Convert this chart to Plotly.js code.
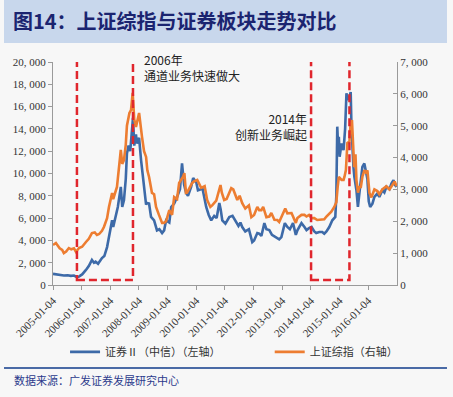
<!DOCTYPE html>
<html>
<head>
<meta charset="utf-8">
<script src="https://cdn.plot.ly/plotly-3.0.1.min.js"></script>
<style>html,body{margin:0;padding:0;background:#f7f7f7;}#chart{width:453px;height:397px;}</style>
</head>
<body>
<div id="chart"></div>
<script>
// 证券II（中信）（左轴）
const blueDates = ["2005-01-04","2005-02-20","2005-04-10","2005-05-22","2005-07-10","2005-08-20","2005-09-28","2005-11-05","2005-12-01","2006-01-10","2006-02-28","2006-04-05","2006-05-15","2006-06-10","2006-06-30","2006-08-01","2006-09-20","2006-10-20","2006-11-24","2006-12-20","2007-01-27","2007-02-10","2007-03-15","2007-04-10","2007-05-18","2007-06-05","2007-06-27","2007-07-20","2007-08-04","2007-08-25","2007-09-15","2007-10-06","2007-10-20","2007-11-05","2007-11-27","2007-12-09","2008-01-06","2008-01-31","2008-02-20","2008-03-09","2008-04-04","2008-04-16","2008-05-12","2008-06-06","2008-07-15","2008-08-21","2008-09-20","2008-10-25","2008-11-20","2008-12-15","2009-01-25","2009-02-18","2009-03-28","2009-05-04","2009-06-10","2009-07-06","2009-08-01","2009-08-27","2009-09-20","2009-10-30","2009-11-25","2010-01-04","2010-01-25","2010-03-07","2010-03-20","2010-05-10","2010-06-10","2010-07-13","2010-08-20","2010-09-20","2010-10-24","2010-11-10","2010-12-01","2011-01-10","2011-02-28","2011-04-10","2011-05-28","2011-06-25","2011-07-20","2011-08-12","2011-09-20","2011-11-05","2011-12-18","2012-01-10","2012-02-20","2012-03-15","2012-04-12","2012-05-20","2012-06-15","2012-07-22","2012-08-25","2012-10-20","2012-11-25","2012-12-23","2013-01-10","2013-02-05","2013-03-09","2013-04-10","2013-05-20","2013-06-25","2013-07-15","2013-09-05","2013-10-13","2013-11-08","2013-12-10","2014-01-11","2014-02-15","2014-03-12","2014-04-20","2014-05-28","2014-06-22","2014-07-20","2014-08-25","2014-10-03","2014-11-10","2014-11-23","2014-12-05","2014-12-15","2014-12-25","2015-01-04","2015-01-29","2015-02-23","2015-03-15","2015-04-01","2015-04-13","2015-05-09","2015-05-25","2015-06-04","2015-06-29","2015-07-11","2015-08-06","2015-08-25","2015-09-13","2015-09-25","2015-10-21","2015-11-15","2015-11-29","2015-12-24","2016-01-10","2016-01-28","2016-02-26","2016-03-22","2016-04-29","2016-05-24","2016-07-01","2016-07-27","2016-08-22","2016-09-30","2016-10-25","2016-11-20","2016-12-05","2016-12-30"];
const blueValues = [1000,950,900,850,880,820,850,700,750,950,1350,1700,2240,2000,2100,1900,2420,2600,3400,4500,5800,5200,6100,7000,8800,7000,7600,9500,11800,12500,12000,14200,15000,12500,13500,12700,13200,11200,10000,8800,7200,7350,7300,6100,5800,4900,5000,4660,4900,5800,5600,7000,7300,7900,8600,10900,9000,8250,8000,8800,9600,9200,8500,8600,8800,7000,6300,5800,6200,6000,7350,6800,5800,5500,6100,6200,5550,5300,5600,5200,4800,5000,3850,4000,4660,4600,4400,5550,5000,4930,4500,4300,4100,4300,4930,5550,5200,5000,5550,4500,4900,5550,5200,4930,5100,5200,4800,4660,4750,4750,4600,4800,5200,5800,6100,8000,14200,12500,13300,11500,12700,12100,14000,17200,16600,16900,17300,14200,10600,9700,8500,7000,8250,9000,10600,10900,10300,9500,7500,7000,7300,7900,8200,7900,8500,8300,8800,8600,9100,9400,9000,8800];

// 上证综指（右轴）
const orangeDates = ["2005-01-04","2005-02-10","2005-03-30","2005-05-01","2005-05-22","2005-06-20","2005-07-25","2005-08-25","2005-09-28","2005-10-24","2005-12-01","2006-01-10","2006-02-28","2006-04-05","2006-05-15","2006-06-20","2006-07-18","2006-08-15","2006-09-20","2006-10-15","2006-11-24","2006-12-18","2007-01-27","2007-02-10","2007-03-30","2007-05-18","2007-06-05","2007-06-27","2007-07-20","2007-08-04","2007-09-05","2007-09-25","2007-10-16","2007-11-05","2007-11-27","2008-01-06","2008-02-12","2008-03-09","2008-04-04","2008-04-20","2008-05-12","2008-06-18","2008-07-15","2008-08-09","2008-09-15","2008-10-25","2008-11-20","2008-12-15","2009-01-25","2009-03-01","2009-03-28","2009-05-04","2009-05-30","2009-07-20","2009-08-05","2009-08-25","2009-09-08","2009-11-11","2009-12-05","2010-01-16","2010-03-07","2010-04-20","2010-05-22","2010-07-02","2010-07-25","2010-09-15","2010-11-08","2010-11-25","2010-12-25","2011-01-25","2011-03-25","2011-04-20","2011-06-10","2011-07-10","2011-08-12","2011-09-20","2011-11-05","2011-12-06","2012-01-10","2012-02-20","2012-03-15","2012-04-12","2012-05-05","2012-06-15","2012-07-22","2012-08-17","2012-09-25","2012-11-01","2012-11-25","2012-12-23","2013-01-30","2013-02-10","2013-03-09","2013-05-01","2013-06-25","2013-07-15","2013-09-05","2013-10-13","2013-11-08","2013-12-10","2014-01-11","2014-02-15","2014-03-25","2014-05-28","2014-06-22","2014-07-20","2014-09-20","2014-10-28","2014-11-23","2014-12-10","2014-12-25","2015-01-29","2015-02-23","2015-03-07","2015-03-25","2015-04-13","2015-05-09","2015-05-21","2015-06-10","2015-06-25","2015-07-08","2015-07-25","2015-08-06","2015-08-26","2015-09-13","2015-09-30","2015-10-21","2015-11-15","2015-12-11","2015-12-24","2016-01-19","2016-02-13","2016-03-22","2016-04-29","2016-05-24","2016-07-01","2016-07-27","2016-08-22","2016-09-30","2016-10-25","2016-11-20","2016-12-05","2016-12-30"];
const orangeValues = [1256,1318,1150,1100,1000,1050,1160,1120,1150,1036,1160,1200,1350,1450,1630,1650,1570,1600,1700,1820,2100,2450,2890,2700,3080,4240,3800,3920,4400,5000,5400,5490,6030,5200,4960,5400,4650,4200,4020,3600,3390,2890,2850,2450,2200,1950,1950,2000,2350,2200,2760,2700,3200,3400,3510,2890,2900,3200,3250,3300,3050,3100,2670,2450,2500,2650,3140,2900,2670,2700,3040,3000,2670,2800,2570,2400,2500,2130,2200,2450,2350,2350,2450,2130,2150,2260,2050,2040,1980,2130,2300,2400,2250,2260,1950,2100,2200,2200,2150,2200,2100,2100,2040,2050,2060,2150,2300,2450,2600,3080,3390,3300,3300,3400,3610,4460,4500,4960,5180,4400,3700,4100,3300,2900,3100,3050,3400,3600,3510,3600,2890,2750,3000,2950,2850,3000,3050,3100,3000,3100,3200,3250,3100];

const xTickVals = ["2005-01-04","2006-01-04","2007-01-04","2008-01-04","2009-01-04","2010-01-04","2011-01-04","2012-01-04","2013-01-04","2014-01-04","2015-01-04","2016-01-04"];
const xTickText = ["2005-01-04","2006-01-04","2007-01-04","2008-01-04","2009-01-04","2010-01-04","2011-01-04","2012-01-04","2013-01-04","2014-01-04","2015-01-04","2016-01-04"];
const yLeftTickVals = [0,2000,4000,6000,8000,10000,12000,14000,16000,18000,20000];
const yLeftTickText = ["0","2, 000","4, 000","6, 000","8, 000","10, 000","12, 000","14, 000","16, 000","18, 000","20, 000"];
const yRightTickVals = [0,1000,2000,3000,4000,5000,6000,7000];
const yRightTickText = ["0","1, 000","2, 000","3, 000","4, 000","5, 000","6, 000","7, 000"];

// highlighted periods
const boxStarts = ["2005-11-05","2014-01-05"];
const boxEnds = ["2007-10-20","2015-05-09"];
const boxLow = 450, boxHigh = 20400;

const seriesNames = ["证券Ⅱ（中信）（左轴）","上证综指（右轴）"];

const blue = "#3d6aa8", orange = "#ed7d31", red = "#e0262d";
const axisColor = "#9a9a9a";
const tickFont = {family: "Liberation Serif, serif", size: 11, color: "#333"};

const traces = [
  {x: blueDates, y: blueValues, type: "scatter", mode: "lines", name: seriesNames[0],
   line: {color: blue, width: 2.6}, yaxis: "y", legend: "legend"},
  {x: orangeDates, y: orangeValues, type: "scatter", mode: "lines", name: seriesNames[1],
   line: {color: orange, width: 2.6}, yaxis: "y2", legend: "legend2"}
];

const shapes = [
  {type: "rect", xref: "paper", yref: "paper", x0: -0.1424, x1: 1.1453, y0: 1.085, y1: 1.28,
   fillcolor: "#c8d7ec", line: {width: 0}, layer: "below"},
  {type: "line", xref: "paper", yref: "paper", x0: -0.1424, x1: 1.1453, y0: -0.372, y1: -0.372,
   line: {color: "#4a6aa6", width: 2}}
];
for (let i = 0; i < boxStarts.length; i++) {
  shapes.push({type: "rect", xref: "x", yref: "y", x0: boxStarts[i], x1: boxEnds[i], y0: boxLow, y1: boxHigh,
    line: {color: red, width: 2.5, dash: "8px,4px"}, fillcolor: "rgba(0,0,0,0)"});
}

const layout = {
  width: 453, height: 397,
  paper_bgcolor: "#f7f7f7", plot_bgcolor: "#f7f7f7",
  margin: {l: 53, r: 56, t: 62, b: 112},
  title: {text: "图14：上证综指与证券板块走势对比", x: 13/453, xanchor: "left", y: 1 - 22/397, yanchor: "middle",
    font: {family: "Noto Sans CJK SC", size: 20, color: "#1b2470", weight: "bold"}},
  showlegend: true,
  legend: {x: 0.035, y: -0.30, xanchor: "left", yanchor: "middle", orientation: "h",
    font: {family: "Noto Sans CJK SC", size: 11, color: "#333"}, bgcolor: "rgba(0,0,0,0)", itemwidth: 30},
  legend2: {x: 0.63, y: -0.30, xanchor: "left", yanchor: "middle", orientation: "h",
    font: {family: "Noto Sans CJK SC", size: 11, color: "#333"}, bgcolor: "rgba(0,0,0,0)", itemwidth: 30},
  xaxis: {type: "date", range: ["2005-01-04","2017-01-04"], tickvals: xTickVals, ticktext: xTickText,
    tickangle: -45, tickfont: tickFont, showgrid: false, zeroline: false, showline: true, linecolor: axisColor,
    ticks: "outside", ticklen: 4, tickcolor: axisColor},
  yaxis: {range: [0, 20000], tickvals: yLeftTickVals, ticktext: yLeftTickText, tickfont: tickFont,
    showgrid: false, zeroline: false, showline: true, linecolor: axisColor, ticks: "outside", ticklen: 4, tickcolor: axisColor},
  yaxis2: {range: [0, 7000], overlaying: "y", side: "right", tickvals: yRightTickVals, ticktext: yRightTickText,
    tickfont: tickFont, showgrid: false, zeroline: false, showline: true, linecolor: axisColor, ticks: "inside", ticklen: 4, tickcolor: axisColor},
  shapes: shapes,
  annotations: [
    {xref: "paper", yref: "paper", x: 0.259, y: 1.058, xanchor: "left", yanchor: "top", align: "left", showarrow: false,
     text: "2006年<br>通道业务快速做大", font: {family: "Noto Sans CJK SC", size: 12, color: "#222"}},
    {xref: "paper", yref: "paper", x: 0.744, y: 0.794, xanchor: "right", yanchor: "top", align: "right", showarrow: false,
     text: "2014年<br>创新业务崛起", font: {family: "Noto Sans CJK SC", size: 12, color: "#222"}},
    {xref: "paper", yref: "paper", x: -0.119, y: -0.426, xanchor: "left", yanchor: "middle", showarrow: false,
     text: "数据来源：广发证券发展研究中心", font: {family: "Noto Sans CJK SC", size: 11, color: "#2b3a8c"}}
  ]
};

Plotly.newPlot("chart", traces, layout, {displayModeBar: false, staticPlot: true});
</script>
</body>
</html>
